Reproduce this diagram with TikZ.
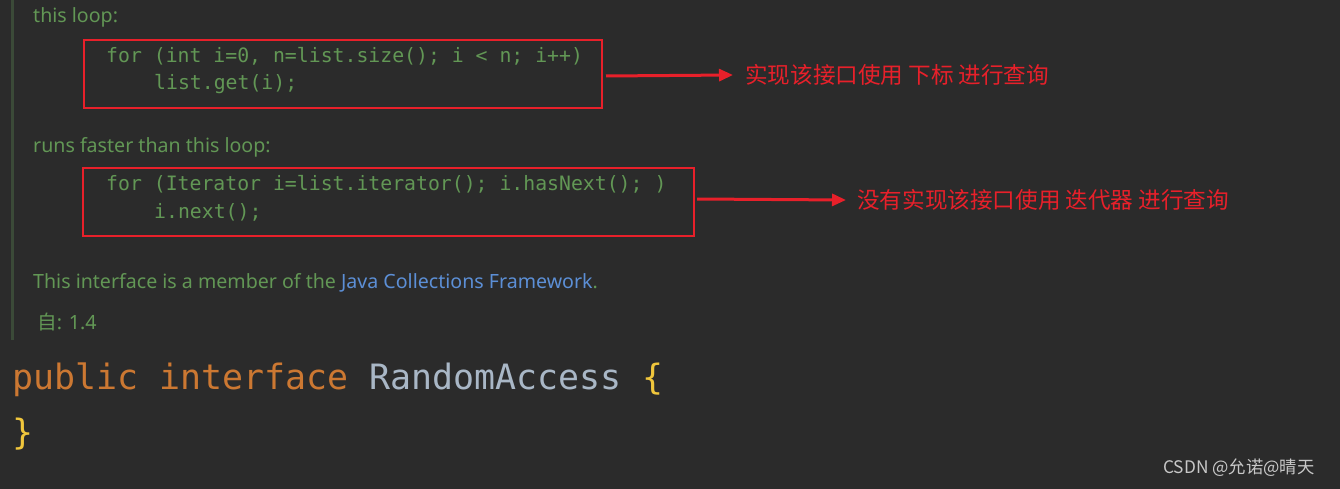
\documentclass[tikz,border=0pt]{standalone}
\usepackage{fontspec}
\setmainfont{Noto Sans}
\setmonofont{DejaVu Sans Mono}
\newfontfamily\cjk{Noto Sans CJK SC}
\usetikzlibrary{arrows.meta}
\definecolor{bg}{HTML}{2B2B2B}
\definecolor{doc}{HTML}{629755}
\definecolor{lnk}{HTML}{5C8FD6}
\definecolor{redm}{HTML}{E8202A}
\definecolor{kw}{HTML}{CC7832}
\definecolor{cls}{HTML}{A9B7C6}
\definecolor{brc}{HTML}{F0C63C}
\definecolor{barc}{HTML}{3B4A38}
\definecolor{wm}{HTML}{C8C8C8}
\begin{document}
\begin{tikzpicture}[x=1pt,y=-1pt,
  doct/.style={anchor=west,inner sep=0,text=doc,font=\fontsize{19.6}{19.6}\selectfont},
  codet/.style={anchor=west,inner sep=0,text=doc,font=\ttfamily\fontsize{19.8}{19.8}\selectfont},
  redbox/.style={draw=redm,line width=1.6pt},
  redarr/.style={draw=redm,line width=3pt,-{Triangle[length=14pt,width=12pt]}},
  note/.style={anchor=west,inner sep=0,text=redm,font=\cjk\fontsize{22.6}{22.6}\selectfont}]
\fill[bg] (0,0) rectangle (1340,489);
\useasboundingbox (0,0) rectangle (1340,489);
\fill[barc] (11,0) rectangle (14,340);
\node[doct] (t1) at (33,17) {this loop:};
\node[codet] (c1) at (106,56) {for (int i=0, n=list.size(); i < n; i++)};
\node[codet] (c2) at (154,84) {list.get(i);};
\draw[redbox] (84,40) rectangle (602,108);
\coordinate (a1) at (606,76);
\node[note] (n1) at (745,75) {实现该接口使用 下标 进行查询};
\draw[redarr] (a1) -- ([xshift=-12pt]n1.west);
\node[doct] (t2) at (33,147) {runs faster than this loop:};
\node[codet] (c3) at (106,184) {for (Iterator i=list.iterator(); i.hasNext(); )};
\node[codet] (c4) at (154,212) {i.next();};
\draw[redbox] (83,168) rectangle (694,236);
\coordinate (a2) at (697,199);
\node[note] (n2) at (857,200) {没有实现该接口使用 迭代器 进行查询};
\draw[redarr] (a2) -- ([xshift=-11pt]n2.west);
\node[doct] (t3) at (33,283) {This interface is a member of the \textcolor{lnk}{Java Collections Framework}.};
\node[doct] (t4) at (37,322) {{\cjk 自}: 1.4};
\node[anchor=west,inner sep=0,font=\ttfamily\fontsize{34.9}{34.9}\selectfont] (p1) at (12,380) {\textcolor{kw}{public interface} \textcolor{cls}{RandomAccess} \textcolor{brc}{\{}};
\node[anchor=west,inner sep=0,font=\ttfamily\fontsize{34.9}{34.9}\selectfont,text=brc] (p2) at (12,434) {\}};
\node[anchor=west,inner sep=0,text=wm,font=\cjk\fontsize{17.3}{17.3}\selectfont] (w) at (1163,468) {CSDN @允诺@晴天};
\end{tikzpicture}
\end{document}
